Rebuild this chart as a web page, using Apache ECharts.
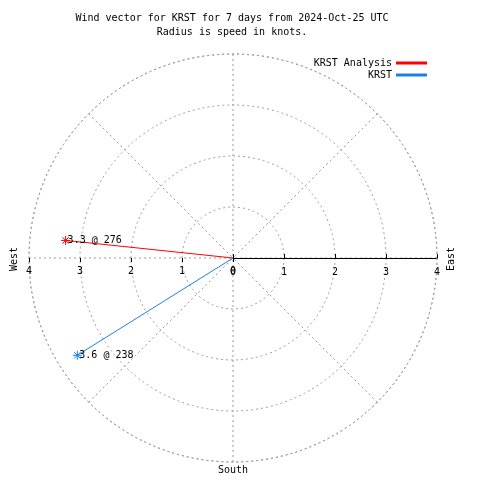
<!DOCTYPE html>
<html>
<head>
<meta charset="utf-8">
<script src="https://cdn.jsdelivr.net/npm/echarts@6/dist/echarts.min.js"></script>
<style>html,body{margin:0;padding:0;background:#fff}#c{width:480px;height:480px}</style>
</head>
<body>
<div id="c"></div>
<script>
const titleLines = ['Wind vector for KRST for 7 days from 2024-Oct-25 UTC', 'Radius is speed in knots.'];
const seriesNames = ['KRST Analysis', 'KRST'];
const speeds = [3.3, 3.6];          // knots
const directions = [276, 238];      // compass degrees
const seriesColors = ['#ff0000', '#1a80e6'];
const radiusTicks = [0, 1, 2, 3, 4];
const compassLabels = ['West', 'East', 'South'];

const FONT = 'DejaVu Sans Mono';
const GRID = '#9a9a9a';
const CX = 233, CY = 258, R = 204;
const star = 'path://M5,0L5,10M0,5L10,5M1.5,1.5L8.5,8.5M1.5,8.5L8.5,1.5';

function polar() { return { center: [CX, CY], radius: R }; }
function angleAxis(idx, start, showGrid) {
  return {
    polarIndex: idx, type: 'value', min: 0, max: 360, interval: 45,
    startAngle: start, clockwise: true,
    axisLine: { show: showGrid, lineStyle: { color: GRID, type: [2, 3], width: 1 } },
    axisTick: { show: false }, axisLabel: { show: false },
    splitLine: { show: showGrid, lineStyle: { color: GRID, type: [2, 3], width: 1 } }
  };
}
function radiusAxis(idx, opts) {
  return Object.assign({
    polarIndex: idx, type: 'value', min: radiusTicks[0], max: radiusTicks[radiusTicks.length - 1], interval: 1,
    axisLine: { show: false },
    axisTick: { show: true, length: 4, lineStyle: { color: '#000', width: 1 } },
    axisLabel: { show: false },
    splitLine: { show: false }
  }, opts);
}
const labelStyle = { show: true, color: '#000', fontFamily: FONT, fontSize: 10 };

const series = seriesNames.map((name, i) => ({
  name: name,
  type: 'line',
  coordinateSystem: 'polar',
  polarIndex: 0,
  z: 5,
  symbol: star,
  symbolSize: 9,
  lineStyle: { color: seriesColors[i], width: 1 },
  itemStyle: { color: seriesColors[i], borderColor: seriesColors[i], borderWidth: 1 },
  label: { show: false },
  data: [
    { value: [0, 0], symbol: 'none' },
    { value: [speeds[i], directions[i] - 90],
      label: { show: true, position: 'right', distance: -3, color: '#000', fontFamily: FONT, fontSize: 10,
               formatter: speeds[i].toFixed(1) + ' @ ' + directions[i] } }
  ],
  animation: false
}));

const option = {
  animation: false,
  polar: [polar(), polar(), polar(), polar()],
  angleAxis: [angleAxis(0, 0, true), angleAxis(1, 0, false), angleAxis(2, 180, false), angleAxis(3, 180, false)],
  radiusAxis: [
    radiusAxis(0, { axisLine: { show: true, lineStyle: { color: '#000', width: 1 } },
                    axisLabel: Object.assign({ margin: -19 }, labelStyle),
                    splitLine: { show: true, lineStyle: { color: GRID, type: [2, 3], width: 1 } } }),
    radiusAxis(1, { axisTick: { show: true, inside: true, length: 4, lineStyle: { color: '#000', width: 1 } } }),
    radiusAxis(2, { axisLabel: Object.assign({ margin: 8 }, labelStyle) }),
    radiusAxis(3, { axisTick: { show: true, inside: true, length: 4, lineStyle: { color: '#000', width: 1 } } })
  ],
  legend: {
    data: seriesNames, orient: 'vertical', right: 53, top: 57, align: 'right', padding: 0,
    icon: 'rect', itemWidth: 29, itemHeight: 1, itemGap: 0,
    textStyle: { fontFamily: FONT, fontSize: 10, color: '#000', lineHeight: 12, padding: [0, 0, 0, 1] }
  },
  graphic: [
    { type: 'text', x: 232, y: 18, style: { text: titleLines[0], fontFamily: FONT, fontSize: 10, fill: '#000', align: 'center', verticalAlign: 'middle' } },
    { type: 'text', x: 232, y: 32, style: { text: titleLines[1], fontFamily: FONT, fontSize: 10, fill: '#000', align: 'center', verticalAlign: 'middle' } },
    { type: 'text', x: 14, y: 259, rotation: Math.PI / 2, style: { text: compassLabels[0], fontFamily: FONT, fontSize: 10, fill: '#000', align: 'center', verticalAlign: 'middle' } },
    { type: 'text', x: 451, y: 259, rotation: Math.PI / 2, style: { text: compassLabels[1], fontFamily: FONT, fontSize: 10, fill: '#000', align: 'center', verticalAlign: 'middle' } },
    { type: 'text', x: 233, y: 470, style: { text: compassLabels[2], fontFamily: FONT, fontSize: 10, fill: '#000', align: 'center', verticalAlign: 'middle' } }
  ],
  series: series
};
const chart = echarts.init(document.getElementById('c'), null, { renderer: 'canvas' });
chart.setOption(option);
</script>
</body>
</html>
